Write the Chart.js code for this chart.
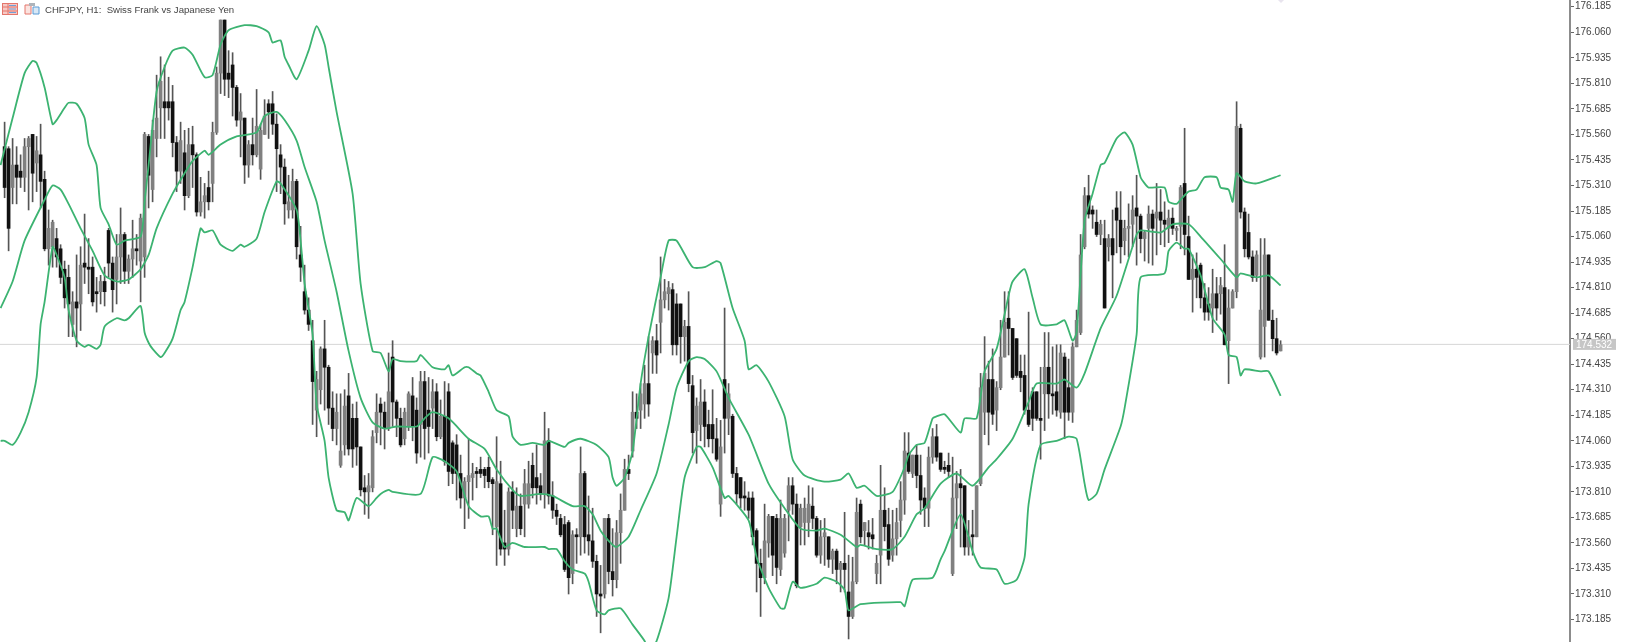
<!DOCTYPE html>
<html>
<head>
<meta charset="utf-8">
<title>CHFJPY H1</title>
<script src="https://cdn.jsdelivr.net/npm/chart.js@4"></script>
<style>
  html, body { margin: 0; padding: 0; background: #fff; overflow: hidden; }
  #wrap { position: relative; width: 1625px; height: 642px; filter: blur(0.4px); }
  #head { position: absolute; left: 2px; top: 2px; height: 14px; display: flex; align-items: center; z-index: 2; }
  #head span { margin-left: -1px; font: 9.6px "Liberation Sans", sans-serif; color: #444; white-space: pre; }
  #head svg { display: block; margin-right: 6px; }
  #shift { position: absolute; left: 1278px; top: 0; border-left: 3px solid transparent; border-right: 3px solid transparent; border-top: 3px solid #e8e4ee; }
</style>
</head>
<body>
<div id="wrap">
  <canvas id="chart" width="1625" height="642"></canvas>
  <div id="head">
    <svg width="16" height="12"><rect x="0.5" y="0.5" width="15" height="11" fill="#f6c9c4" stroke="#e4766c"/><path d="M1 4H15M1 8H15" stroke="#e4766c"/><path d="M6 1V11" stroke="#e4766c"/><path d="M7 2.5H14M7 6H14M7 9.5H14" stroke="#6f9fd8"/></svg>
    <svg width="16" height="12"><path d="M1 2H7V11H1Z" fill="#fbe3df" stroke="#e4766c"/><path d="M9 4H15V11H9Z" fill="#d8e8f6" stroke="#5b9bd5"/><rect x="5" y="0" width="6" height="3" fill="#aeb4ba"/></svg>
    <span>CHFJPY, H1:  Swiss Frank vs Japanese Yen</span>
  </div>
  <div id="shift"></div>
</div>
<script>
// prices, one entry per hourly bar, 10 per line
const opens = [
  175.50,175.49,175.30,175.41,175.38,175.35,175.50,175.56,175.42,175.46,
  175.34,175.00,175.01,175.05,175.00,174.90,174.86,174.63,174.74,174.73,
  174.93,174.91,174.91,174.79,174.79,174.84,175.09,174.93,174.85,174.96,
  175.07,174.89,174.95,175.00,174.94,174.96,175.55,175.29,175.54,175.69,
  175.72,175.72,175.72,175.52,175.38,175.47,175.26,175.51,175.46,175.18,
  175.23,175.30,175.32,175.57,175.86,176.12,175.86,175.90,175.79,175.63,
  175.64,175.41,175.51,175.46,175.39,175.56,175.71,175.71,175.61,175.46,
  175.40,175.19,175.19,175.33,174.97,174.79,174.70,174.55,174.21,174.31,
  174.51,174.42,174.22,174.12,173.94,174.04,174.28,174.17,174.17,174.03,
  173.83,173.81,173.83,174.10,174.24,174.20,174.12,174.47,174.25,174.17,
  174.07,174.13,174.28,174.21,174.14,174.35,174.21,174.22,174.30,174.08,
  174.18,174.30,174.05,174.04,173.90,173.78,173.86,173.88,173.91,173.92,
  173.92,173.93,173.87,173.64,173.85,173.56,173.53,173.81,173.63,173.74,
  173.75,173.75,173.94,173.88,173.84,173.80,174.06,173.79,173.72,173.68,
  173.65,173.66,173.41,173.60,173.59,173.90,173.60,173.57,173.47,173.31,
  173.31,173.68,173.42,173.38,173.61,173.72,173.92,174.01,174.20,174.21,
  174.24,174.34,174.49,174.55,174.64,174.75,174.78,174.80,174.73,174.73,
  174.57,174.62,174.33,174.11,174.14,174.25,174.14,174.14,174.07,173.75,
  174.36,174.17,174.18,173.90,173.88,173.79,173.78,173.78,173.62,173.46,
  173.39,173.56,173.69,173.68,173.43,173.51,173.72,173.84,173.75,173.64,
  173.66,173.66,173.74,173.68,173.50,173.59,173.59,173.48,173.52,173.43,
  173.46,173.32,173.20,173.37,173.75,173.62,173.61,173.60,173.41,173.50,
  173.72,173.65,173.50,173.58,173.67,173.77,174.00,173.90,173.99,173.89,
  173.78,173.73,173.98,174.08,174.00,173.93,173.94,173.41,173.78,173.85,
  173.84,173.54,173.60,173.59,173.85,174.20,174.36,174.36,174.21,174.32,
  174.47,174.66,174.61,174.56,174.40,174.38,174.21,174.30,174.30,174.17,
  174.29,174.42,174.29,174.30,174.20,174.47,174.32,174.20,174.52,174.59,
  175.01,175.26,175.19,175.13,175.07,175.05,175.01,175.05,175.20,175.14,
  175.04,175.10,175.12,175.20,175.16,175.05,175.10,175.17,175.15,175.18,
  175.14,175.10,175.15,175.09,175.11,175.32,175.06,174.85,174.90,174.92,
  174.76,174.73,174.71,174.78,174.78,174.81,174.55,174.71,174.79,175.59,
  175.18,175.08,174.96,174.87,174.47,174.62,174.97,174.65,174.56,174.50
];
const highs = [
  175.62,175.50,175.54,175.50,175.46,175.54,175.55,175.56,175.55,175.61,
  175.38,175.19,175.14,175.10,175.02,174.94,174.92,174.79,174.97,175.01,
  175.17,175.05,174.96,174.86,174.87,174.91,175.10,174.96,175.07,175.20,
  175.08,174.97,175.14,175.07,175.17,175.57,175.56,175.63,175.85,175.94,
  175.90,175.84,175.80,175.55,175.62,175.58,175.59,175.60,175.47,175.35,
  175.32,175.38,175.62,175.89,176.12,176.12,175.97,175.96,175.80,175.76,
  175.64,175.53,175.64,175.78,175.61,175.73,175.73,175.77,175.66,175.51,
  175.44,175.36,175.39,175.34,175.11,174.92,174.76,174.65,174.40,174.52,
  174.65,174.43,174.30,174.29,174.29,174.31,174.39,174.24,174.25,174.03,
  173.89,173.90,174.11,174.29,174.27,174.25,174.49,174.55,174.26,174.22,
  174.22,174.30,174.37,174.27,174.40,174.40,174.37,174.36,174.34,174.26,
  174.35,174.34,174.06,174.09,173.99,173.88,174.07,173.95,173.93,173.98,
  173.93,173.98,173.88,174.08,173.96,173.72,173.83,173.86,173.83,173.80,
  173.92,173.96,174.00,174.04,173.90,174.20,174.12,173.86,173.75,173.70,
  173.69,173.67,173.62,173.63,174.03,173.91,173.79,173.73,173.50,173.45,
  173.68,173.70,173.63,173.67,173.80,173.97,173.99,174.30,174.29,174.34,
  174.43,174.57,174.57,174.63,174.96,174.85,174.84,174.83,174.78,174.73,
  174.65,174.79,174.38,174.27,174.36,174.31,174.21,174.31,174.17,174.16,
  174.71,174.34,174.19,173.93,173.88,173.86,173.81,173.81,173.63,173.53,
  173.75,173.70,173.69,173.70,173.77,173.70,173.88,173.88,173.80,173.75,
  173.78,173.84,173.83,173.69,173.67,173.68,173.59,173.53,173.53,173.47,
  173.71,173.50,173.49,173.78,173.77,173.66,173.67,173.68,173.50,173.94,
  173.83,173.73,173.72,173.73,173.86,174.10,174.10,173.99,174.04,173.99,
  173.83,174.03,174.12,174.14,174.00,173.96,174.00,173.98,173.91,173.92,
  173.84,173.67,173.72,173.84,174.39,174.57,174.45,174.51,174.35,174.65,
  174.79,174.79,174.61,174.56,174.48,174.48,174.69,174.32,174.30,174.42,
  174.59,174.59,174.52,174.53,174.53,174.49,174.46,174.54,174.70,175.07,
  175.30,175.36,175.21,175.19,175.14,175.14,175.07,175.19,175.28,175.28,
  175.14,175.22,175.26,175.36,175.17,175.09,175.21,175.19,175.32,175.29,
  175.23,175.19,175.20,175.11,175.31,175.59,175.16,174.97,174.98,174.93,
  174.83,174.81,174.90,174.86,174.86,175.02,174.80,174.80,175.72,175.61,
  175.20,175.17,174.99,174.99,175.05,175.05,174.97,174.70,174.66,174.55
];
const lows = [
  175.25,174.99,175.22,175.22,175.30,175.28,175.19,175.23,175.28,175.20,
  174.99,174.92,174.91,174.91,174.83,174.71,174.57,174.57,174.52,174.60,
  174.83,174.78,174.72,174.69,174.73,174.72,174.86,174.69,174.73,174.83,
  174.83,174.83,174.86,174.92,174.74,174.86,175.20,175.23,175.45,175.54,
  175.54,175.63,175.45,175.28,175.32,175.19,175.25,175.30,175.16,175.16,
  175.15,175.19,175.23,175.56,175.76,175.75,175.74,175.65,175.60,175.45,
  175.32,175.35,175.41,175.45,175.34,175.56,175.54,175.56,175.28,175.27,
  175.12,175.15,175.15,174.95,174.84,174.68,174.60,174.14,174.08,174.24,
  174.21,174.14,174.06,174.04,173.93,173.99,173.99,173.93,173.94,173.79,
  173.70,173.68,173.81,174.05,174.04,174.02,174.11,174.13,174.08,174.03,
  174.04,174.11,174.06,173.95,173.98,173.97,174.00,174.12,174.06,174.07,
  173.94,173.84,173.85,173.77,173.73,173.63,173.68,173.77,173.83,173.88,
  173.83,173.83,173.60,173.45,173.50,173.45,173.50,173.63,173.59,173.60,
  173.59,173.73,173.78,173.75,173.77,173.73,173.75,173.68,173.65,173.59,
  173.42,173.31,173.36,173.46,173.50,173.51,173.50,173.44,173.20,173.12,
  173.29,173.36,173.30,173.34,173.46,173.72,173.87,173.98,174.12,174.12,
  174.17,174.18,174.39,174.39,174.49,174.71,174.70,174.48,174.48,174.44,
  174.45,174.30,174.00,173.95,174.06,174.03,174.03,174.00,173.96,173.69,
  174.00,174.09,173.88,173.75,173.73,173.72,173.68,173.55,173.32,173.20,
  173.36,173.49,173.40,173.36,173.40,173.49,173.57,173.70,173.34,173.55,
  173.55,173.59,173.63,173.49,173.46,173.45,173.44,173.41,173.36,173.32,
  173.32,173.09,173.19,173.36,173.56,173.55,173.53,173.53,173.36,173.36,
  173.57,173.45,173.47,173.50,173.59,173.70,173.90,173.88,173.83,173.70,
  173.64,173.64,173.95,173.96,173.91,173.90,173.88,173.40,173.63,173.54,
  173.50,173.50,173.50,173.59,173.84,174.09,174.04,174.14,174.11,174.31,
  174.47,174.48,174.36,174.37,174.30,174.19,174.13,174.11,174.16,173.97,
  174.11,174.17,174.19,174.18,174.17,174.07,174.16,174.15,174.52,174.58,
  175.00,175.15,175.10,175.06,175.02,174.71,174.94,174.76,174.98,174.93,
  174.97,174.96,175.01,174.92,174.98,174.94,174.93,174.92,174.97,175.02,
  175.01,175.03,175.07,175.04,175.00,174.97,174.85,174.69,174.76,174.71,
  174.65,174.65,174.59,174.65,174.68,174.53,174.34,174.71,174.76,175.15,
  174.96,174.95,174.84,174.84,174.46,174.47,174.65,174.50,174.48,174.50
];
const closes = [
  175.30,175.10,175.41,175.35,175.35,175.50,175.54,175.37,175.48,175.33,
  175.00,175.10,175.13,174.96,174.86,174.76,174.73,174.74,174.71,174.92,
  174.91,174.90,174.74,174.78,174.84,174.79,174.93,174.80,174.96,175.07,
  174.89,174.95,175.00,174.99,175.15,175.56,175.36,175.58,175.64,175.82,
  175.69,175.69,175.52,175.38,175.53,175.26,175.51,175.46,175.18,175.23,
  175.26,175.23,175.57,175.86,176.12,175.83,175.83,175.79,175.63,175.67,
  175.41,175.51,175.46,175.60,175.58,175.65,175.67,175.61,175.49,175.40,
  175.22,175.23,175.33,175.01,174.91,174.70,174.63,174.35,174.36,174.51,
  174.42,174.22,174.12,174.20,174.01,174.23,174.02,174.02,174.03,173.82,
  173.81,173.84,174.08,174.20,174.20,174.12,174.30,174.25,174.17,174.04,
  174.20,174.29,174.13,174.00,174.35,174.12,174.13,174.30,174.08,174.18,
  173.96,173.91,173.90,173.90,173.78,173.86,173.89,173.90,173.90,173.90,
  173.89,173.86,173.85,173.86,173.53,173.53,173.81,173.72,173.74,173.63,
  173.85,173.85,173.83,173.83,173.80,174.06,173.79,173.72,173.69,173.60,
  173.43,173.39,173.60,173.59,173.90,173.59,173.57,173.47,173.31,173.30,
  173.68,173.42,173.38,173.61,173.72,173.92,173.90,174.20,174.17,174.29,
  174.34,174.24,174.55,174.48,174.75,174.79,174.81,174.53,174.53,174.57,
  174.62,174.34,174.10,174.23,174.25,174.13,174.07,174.07,173.97,174.03,
  174.17,174.29,173.90,173.80,173.78,173.78,173.72,173.59,173.46,173.39,
  173.57,173.69,173.50,173.44,173.68,173.68,173.84,173.75,173.35,173.73,
  173.73,173.75,173.68,173.50,173.59,173.61,173.48,173.52,173.43,173.46,
  173.43,173.20,173.37,173.71,173.59,173.66,173.59,173.58,173.46,173.72,
  173.64,173.48,173.58,173.66,173.77,174.01,173.91,173.99,173.89,173.77,
  173.73,173.98,174.08,173.98,173.92,173.92,173.91,173.78,173.85,173.83,
  173.54,173.59,173.59,173.84,174.32,174.39,174.20,174.19,174.32,174.47,
  174.64,174.61,174.37,174.38,174.37,174.21,174.14,174.17,174.17,174.16,
  174.42,174.29,174.28,174.21,174.49,174.20,174.20,174.52,174.65,174.97,
  175.26,175.17,175.17,175.07,175.12,174.71,175.05,174.97,175.14,175.01,
  175.10,175.11,175.19,175.16,175.05,175.08,175.17,175.10,175.18,175.14,
  175.12,175.15,175.10,175.10,175.30,175.07,174.85,174.90,174.86,174.76,
  174.69,174.69,174.78,174.71,174.82,174.53,174.71,174.79,175.60,175.18,
  175.00,174.96,174.86,174.97,174.70,174.97,174.65,174.56,174.49,174.53
];

// Bollinger bands: bar number and price at each bend of the line
const upperBars = [-1,2,5,7,8,10,12,13,15,16,18,20,21,23,24,26,28,30,34,35,36,38,40,42,45,47,50,52,54,56,60,63,66,67,69,70,71,73,76,78,80,81,83,87,89,92,94,96,97,99,103,104,107,110,111,112,115,116,118,119,121,123,126,127,129,132,135,136,140,141,144,148,151,152,153,155,157,159,161,164,166,168,172,175,178,179,182,185,186,188,191,195,197,200,205,209,211,213,215,218,222,225,226,228,230,232,233,235,239,240,243,245,248,251,252,255,257,259,263,265,267,268,270,272,274,275,278,280,282,284,285,286,290,291,293,294,296,298,300,303,304,306,307,308,310,313,319];
const upperBand = [175.41,175.64,175.86,175.92,175.91,175.79,175.61,175.63,175.69,175.715,175.71,175.64,175.51,175.41,175.20,175.12,175.02,175.04,175.06,175.23,175.41,175.77,175.89,175.97,175.985,175.95,175.84,175.85,176.00,176.07,176.095,176.09,176.06,176.01,176.02,175.94,175.90,175.83,175.97,176.09,176.00,175.89,175.67,175.27,174.83,174.50,174.49,174.40,174.46,174.45,174.45,174.48,174.42,174.41,174.43,174.38,174.42,174.42,174.39,174.38,174.30,174.21,174.18,174.08,174.04,174.05,174.04,174.06,174.03,174.05,174.07,174.04,173.98,173.88,173.84,173.88,174.01,174.34,174.57,174.86,175.04,175.04,174.91,174.91,174.94,174.93,174.71,174.55,174.41,174.43,174.35,174.18,173.97,173.89,173.86,173.87,173.90,173.83,173.84,173.79,173.81,173.93,173.99,174.04,174.05,174.17,174.18,174.19,174.10,174.17,174.17,174.40,174.51,174.77,174.84,174.90,174.76,174.63,174.63,174.65,174.55,174.59,175.14,175.27,175.41,175.42,175.54,175.57,175.51,175.35,175.32,175.30,175.30,175.23,175.22,175.24,175.28,175.29,175.35,175.35,175.30,175.29,175.23,175.37,175.33,175.32,175.36];

const middleBars = [-1,2,5,10,12,14,16,19,22,25,28,31,34,36,38,42,45,47,50,51,54,58,63,65,68,70,73,75,78,80,83,86,89,92,95,98,103,105,107,111,116,120,123,127,129,134,137,142,145,147,149,152,153,156,159,163,166,168,171,173,175,178,181,186,191,195,199,203,205,209,213,214,218,222,225,228,230,234,238,242,246,248,252,256,258,263,265,268,270,274,278,283,284,289,292,296,299,304,308,309,313,316,319];
const middleBand = [174.71,174.84,175.04,175.24,175.31,175.29,175.22,175.10,174.99,174.87,174.84,174.85,174.90,174.97,175.10,175.27,175.37,175.43,175.48,175.46,175.51,175.55,175.57,175.65,175.67,175.63,175.53,175.40,175.23,175.04,174.79,174.50,174.27,174.15,174.12,174.13,174.13,174.17,174.20,174.17,174.07,174.02,173.92,173.82,173.79,173.80,173.79,173.74,173.74,173.70,173.62,173.55,173.54,173.59,173.72,173.90,174.14,174.32,174.45,174.47,174.46,174.40,174.27,174.09,173.85,173.73,173.63,173.62,173.63,173.60,173.54,173.55,173.53,173.53,173.59,173.70,173.73,173.85,173.90,173.84,173.93,173.97,174.07,174.25,174.34,174.34,174.36,174.32,174.39,174.61,174.77,175.07,175.09,175.08,175.12,175.12,175.06,174.95,174.86,174.88,174.86,174.87,174.82];

const lowerBars = [-1,0,2,4,6,8,9,10,12,13,15,16,18,20,21,23,24,25,28,30,31,34,35,36,37,39,40,42,44,45,47,49,50,52,54,57,59,60,63,65,68,69,73,74,75,77,78,80,81,83,85,86,88,91,93,94,96,97,104,107,110,113,116,119,121,122,123,125,127,130,135,136,138,140,142,145,146,148,150,151,154,157,160,161,163,166,168,170,173,174,177,180,181,186,188,191,194,195,197,199,203,205,208,210,211,214,224,225,227,232,234,235,239,242,244,248,250,253,255,256,259,263,266,268,270,271,273,275,279,280,283,284,290,291,293,295,296,299,302,305,306,308,309,310,314,316,319];
const lowerBand = [174.06,174.06,174.04,174.10,174.20,174.37,174.63,174.74,175.01,174.97,174.86,174.70,174.55,174.52,174.53,174.51,174.53,174.62,174.66,174.65,174.66,174.72,174.59,174.54,174.51,174.47,174.49,174.56,174.70,174.74,174.91,175.10,175.08,175.09,175.02,174.99,175.02,175.01,175.05,175.18,175.33,175.32,175.19,175.04,174.83,174.58,174.24,174.06,173.88,173.72,173.71,173.67,173.78,173.74,173.78,173.80,173.82,173.81,173.80,173.98,173.96,173.91,173.74,173.69,173.69,173.63,173.63,173.54,173.56,173.54,173.54,173.53,173.53,173.47,173.43,173.41,173.37,173.23,173.21,173.23,173.24,173.16,173.08,173.03,173.08,173.29,173.59,173.88,174.03,174.03,173.93,173.78,173.79,173.67,173.49,173.34,173.24,173.24,173.37,173.34,173.36,173.39,173.37,173.33,173.23,173.26,173.27,173.25,173.38,173.39,173.48,173.52,173.70,173.52,173.44,173.43,173.36,173.38,173.49,173.75,174.04,174.06,174.08,174.07,173.85,173.77,173.80,173.92,174.13,174.22,174.58,174.86,174.88,174.99,175.03,175.00,175.00,174.87,174.66,174.58,174.48,174.47,174.38,174.41,174.40,174.40,174.28];

const tickValues = [176.185,176.060,175.935,175.810,175.685,175.560,175.435,175.310,175.185,175.060,174.935,174.810,174.685,174.560,174.435,174.310,174.185,174.060,173.935,173.810,173.685,173.560,173.435,173.310,173.185];
const lastPrice = 174.532;

const barIndex = opens.map((_, i) => i);

function zip(xs, ys) {
    return xs.map((x, i) => ({ x: x, y: ys[i] }));
}

// small grey box with the last price, sits on top of the axis labels
const priceTag = {
    id: 'priceTag',
    afterDraw(chart) {
        const c = chart.ctx;
        const y = chart.scales.y.getPixelForValue(lastPrice);
        c.save();
        c.fillStyle = '#c6c6c6';
        c.fillRect(1573, y - 5.5, 43, 11);
        c.fillStyle = '#fff';
        c.font = '10px "Liberation Sans"';
        c.textBaseline = 'middle';
        c.fillText(lastPrice.toFixed(3), 1576, y + 0.5);
        c.restore();
    }
};

function bandDataset(bars, prices) {
    return {
        type: 'line',
        data: zip(bars, prices),
        borderColor: '#3cb371',
        borderWidth: 1.8,
        pointRadius: 0,
        tension: 0.2,
        order: 1
    };
}

new Chart(document.getElementById('chart').getContext('2d'), {
    type: 'bar',
    data: {
        datasets: [
            bandDataset(upperBars, upperBand),
            bandDataset(middleBars, middleBand),
            bandDataset(lowerBars, lowerBand),
            {
                // candle bodies
                type: 'bar',
                data: barIndex.map(i => ({ x: i, y: [opens[i], closes[i]] })),
                backgroundColor: barIndex.map(i => closes[i] < opens[i] ? '#111' : '#808080'),
                barThickness: 3,
                minBarLength: 1,
                order: 2
            },
            {
                // wicks
                type: 'bar',
                data: barIndex.map(i => ({ x: i, y: [lows[i], highs[i]] })),
                backgroundColor: '#555',
                barThickness: 1,
                order: 3
            },
            {
                // current price line
                type: 'line',
                data: [{ x: -2, y: lastPrice }, { x: 392, y: lastPrice }],
                borderColor: '#d6d6d6',
                borderWidth: 1,
                pointRadius: 0,
                order: 4
            }
        ]
    },
    options: {
        responsive: false,
        animation: false,
        events: [],
        layout: { padding: 0 },
        datasets: { bar: { grouped: false } },
        plugins: { legend: { display: false }, tooltip: { enabled: false } },
        scales: {
            x: {
                type: 'linear',
                offset: false,
                min: -1.15,
                max: 391.35,
                display: false
            },
            y: {
                position: 'right',
                min: 173.075,
                max: 176.218,
                afterFit(scale) {
                    // fixed axis strip and no label padding, so the plot fills the full height
                    scale.width = 55;
                    scale.paddingTop = 0;
                    scale.paddingBottom = 0;
                },
                afterBuildTicks(scale) { scale.ticks = tickValues.map(v => ({ value: v })); },
                grid: { drawOnChartArea: false, color: '#666', tickLength: 4, tickWidth: 1 },
                border: { color: '#8c8c8c', width: 2 },
                ticks: {
                    autoSkip: false,
                    padding: 1,
                    maxRotation: 0,
                    color: '#444',
                    font: { family: '"Liberation Sans"', size: 10 },
                    callback: v => v.toFixed(3)
                }
            }
        }
    },
    plugins: [priceTag]
});
</script>
</body>
</html>
